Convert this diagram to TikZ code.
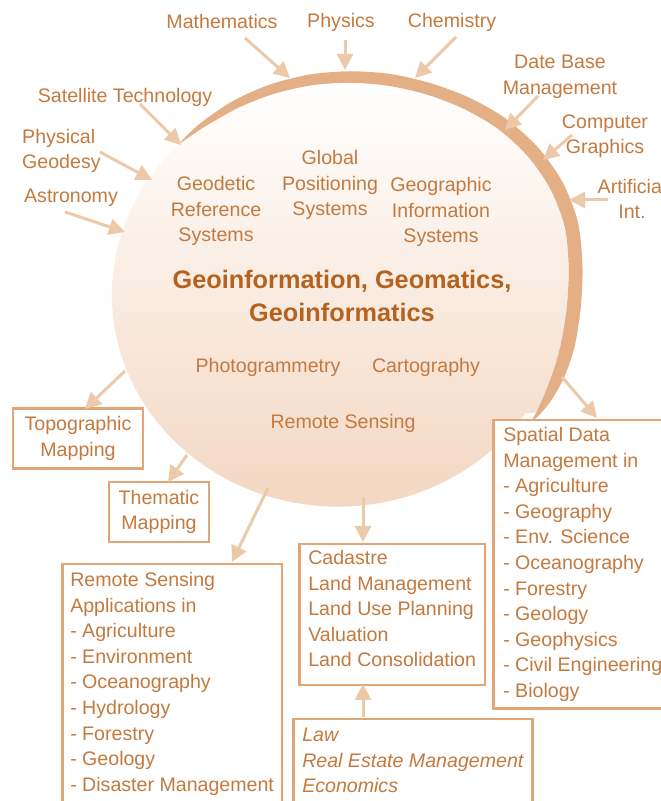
\documentclass[tikz,border=0pt]{standalone}
\usepackage{fontspec}
\setmainfont{Liberation Sans}
\usetikzlibrary{arrows.meta}
\definecolor{txt}{HTML}{C47A3E}
\definecolor{ttl}{HTML}{B5621F}
\definecolor{rim}{HTML}{E5AF86}
\definecolor{arr}{HTML}{ECC9A9}
\definecolor{frame}{HTML}{E2A676}
\definecolor{peach}{HTML}{F3D6C0}

\begin{document}
\begin{tikzpicture}[x=1pt,y=1pt,
    lbl/.style={text=txt,font=\fontsize{19.6}{25.6}\selectfont,align=center,inner sep=0pt},
    field/.style={lbl,draw=frame,fill=white,line width=2.5pt,align=left,anchor=north west,inner xsep=9pt,inner ysep=8pt},
    feed/.style={draw=arr,line width=3pt,-{Triangle[length=16pt,width=16pt]}}]
      \useasboundingbox (0,0) rectangle (661,801);

      \begin{scope}[shift={(350,496)}]
        \shade[top color=white,bottom color=peach] (137:235) arc[start angle=135,end angle=326,x radius=226,y radius=212]
          -- plot[smooth] coordinates {(-30:215) (-25:214) (-18:213.75) (-10:214.5) (0:217) (10:222) (20:228.5) (30:231.5) (40:231.75) (50:230) (60:226.75) (70:224) (80:222.5) (90:222.25) (100:223) (110:224.5) (120:226.75) (130:230.5)} -- cycle;
        \fill[rim] plot[smooth] coordinates {(137:235) (130:235.5) (120:235.25) (110:234.5) (100:234) (90:233.75) (80:234.5) (70:236) (60:239.25) (50:243) (40:245.25) (30:245.5) (20:242.5) (10:236) (0:231) (-10:228.5) (-18:226.25) (-25:223) (-30:219) (-33:215.5)}
          -- plot[smooth] coordinates {(-30:215) (-25:214) (-18:213.75) (-10:214.5) (0:217) (10:222) (20:228.5) (30:231.5) (40:231.75) (50:230) (60:226.75) (70:224) (80:222.5) (90:222.25) (100:223) (110:224.5) (120:226.75) (130:230.5)} -- cycle;
      \end{scope}

      \node[lbl] (math) at (222,779) {Mathematics};
      \node[lbl] (phys) at (341,779) {Physics};
      \node[lbl] (chem) at (452,779) {Chemistry};
      \node[lbl] (dbm) at (560,724) {Date Base\\Management};
      \node[lbl] (cg) at (605,665) {Computer\\Graphics};
      \node[lbl] (ai) at (632,602) {Artificial\\Int.};
      \node[lbl] (sat) at (125,704) {Satellite Technology};
      \node[lbl,align=left,anchor=west] (geod) at (22,650) {Physical\\Geodesy};
      \node[lbl] (astro) at (71,603) {Astronomy};

      \node[lbl] (grs) at (216,590) {Geodetic\\Reference\\Systems};
      \node[lbl] (gps) at (330,616) {Global\\Positioning\\Systems};
      \node[lbl] (gis) at (441,589) {Geographic\\Information\\Systems};
      \node[lbl,text=ttl,font=\bfseries\fontsize{25.3}{33}\selectfont] (geo) at (342,505) {Geoinformation, Geomatics,\\Geoinformatics};
      \node[lbl] (photo) at (268,434) {Photogrammetry};
      \node[lbl] (carto) at (426,434) {Cartography};
      \node[lbl] (rs) at (343,378) {Remote Sensing};

      \node[field,align=center,anchor=center,minimum width=130pt,minimum height=57pt] (topo) at (78,362.5) {Topographic\\Mapping};
      \node[field,align=center,anchor=center,minimum width=100pt,minimum height=58pt] (them) at (159,289) {Thematic\\Mapping};
      \node[field,inner xsep=8pt] (rsapp) at (61,238) {Remote Sensing\\Applications in\\- Agriculture\\- Environment\\- Oceanography\\- Hydrology\\- Forestry\\- Geology\\- Disaster Management};
      \node[field,inner ysep=6pt,text depth=12pt] (cad) at (298,258) {Cadastre\\Land Management\\Land Use Planning\\Valuation\\Land Consolidation};
      \node[field,font=\itshape\fontsize{19.6}{25.6}\selectfont,inner ysep=9pt] (law) at (292,83) {Law\\Real Estate Management\\Economics};
      \node[field,inner xsep=10pt,inner ysep=7pt] (sdm) at (492,382) {Spatial Data\\Management in\\- Agriculture\\- Geography\\- Env. Science\\- Oceanography\\- Forestry\\- Geology\\- Geophysics\\- Civil Engineering\\- Biology};

      \coordinate (mathA) at (245,763); \coordinate (mathB) at (290,723);
      \coordinate (physA) at (345,761); \coordinate (physB) at (345,731);
      \coordinate (chemA) at (456,764); \coordinate (chemB) at (415,723);
      \coordinate (dbmA) at (538,705);  \coordinate (dbmB) at (505,671);
      \coordinate (cgA) at (572,666);   \coordinate (cgB) at (543,641);
      \coordinate (aiA) at (608,601);   \coordinate (aiB) at (569,601);
      \coordinate (satA) at (140,697);  \coordinate (satB) at (181,656);
      \coordinate (geodA) at (100,649); \coordinate (geodB) at (152,621);
      \coordinate (astroA) at (65,589); \coordinate (astroB) at (125,569);
      \coordinate (topoA) at (125,430); \coordinate (topoB) at (85,392);
      \coordinate (themA) at (187,346); \coordinate (themB) at (168,319);
      \coordinate (rsappA) at (268,313); \coordinate (rsappB) at (232,239);
      \coordinate (cadA) at (363,304);  \coordinate (cadB) at (363,259);
      \coordinate (sdmA) at (562,424);  \coordinate (sdmB) at (597,383);
      \coordinate (lawA) at (363,84);   \coordinate (lawB) at (363,117);

      \draw[feed] (mathA) -- (mathB);
      \draw[feed] (physA) -- (physB);
      \draw[feed] (chemA) -- (chemB);
      \draw[feed] (dbmA) -- (dbmB);
      \draw[feed] (cgA) -- (cgB);
      \draw[feed] (aiA) -- (aiB);
      \draw[feed] (satA) -- (satB);
      \draw[feed] (geodA) -- (geodB);
      \draw[feed] (astroA) -- (astroB);
      \draw[feed] (topoA) -- (topoB);
      \draw[feed] (themA) -- (themB);
      \draw[feed] (rsappA) -- (rsappB);
      \draw[feed] (cadA) -- (cadB);
      \draw[feed] (sdmA) -- (sdmB);
      \draw[feed] (lawA) -- (lawB);
\end{tikzpicture}
\end{document}
